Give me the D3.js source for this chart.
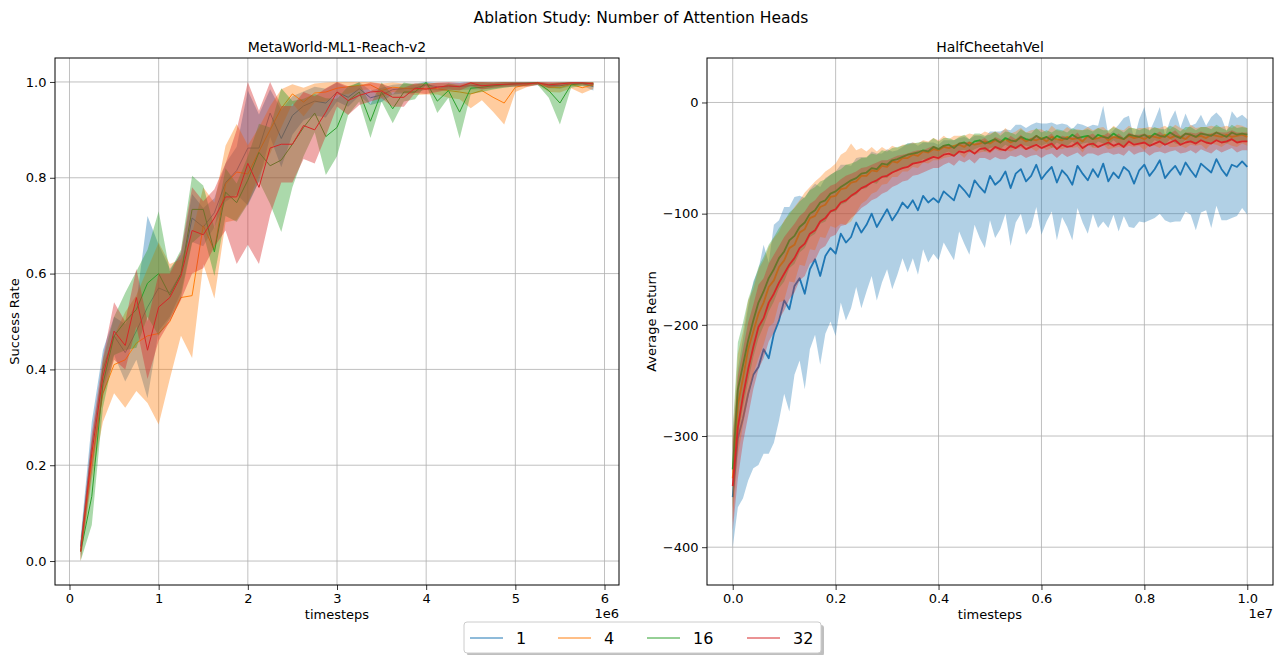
<!DOCTYPE html>
<html><head><meta charset="utf-8">
<script src="https://cdn.jsdelivr.net/npm/d3@7"></script>
<style>body{margin:0;background:#fff}svg{display:block}text{font-family:"DejaVu Sans",sans-serif;fill:#000}</style>
</head><body>
<script>
// ---------- DATA ----------
const seriesNames = ["1", "4", "16", "32"];
const colors = ["#1f77b4", "#ff7f0e", "#2ca02c", "#d62728"];

// Left panel: MetaWorld-ML1-Reach-v2, x = k * 0.125e6 (k = 1..47)
const reachSteps = [1,2,3,4,5,6,7,8,9,10,11,12,13,14,15,16,17,18,19,20,21,22,23,24,25,26,27,28,29,30,31,32,33,34,35,36,37,38,39,40,41,42,43,44,45,46,47].map(k => k * 125000);
const reachMean1  = [.03,.24,.40,.47,.435,.48,.53,.57,.56,.60,.716,.697,.727,.79,.815,.862,.862,.935,.882,.93,.95,.96,.956,.979,.968,.986,.967,.973,.984,.986,.987,.994,.99,.99,.991,.992,.993,.992,.995,.996,.997,.998,.993,.992,.996,.997,.99];
const reachMean4  = [.02,.21,.35,.41,.42,.455,.47,.475,.50,.55,.554,.70,.648,.787,.812,.808,.855,.90,.945,.975,.958,.977,.979,.987,.99,.993,.994,.982,.989,.987,.985,.986,.986,.982,.979,.975,.982,.968,.956,.989,.994,.999,.989,.988,.995,.988,.994];
const reachMean16 = [.02,.135,.37,.47,.50,.525,.58,.60,.555,.60,.734,.734,.645,.77,.748,.795,.853,.825,.837,.87,.905,.935,.886,.905,.961,.979,.918,.979,.944,.979,.979,.999,.96,.982,.937,.987,.989,.992,.994,.996,.997,.998,.982,.956,.994,.997,.996];
const reachMean32 = [.02,.225,.385,.48,.45,.55,.44,.53,.55,.595,.69,.681,.716,.76,.76,.83,.78,.862,.87,.87,.909,.90,.937,.979,.961,.972,.979,.981,.968,.968,.987,.985,.989,.992,.99,.998,.992,.994,.995,.996,.996,.998,.994,.996,.998,.998,.996];
const reachSd1  = [.02,.05,.04,.04,.06,.06,.19,.09,.05,.04,.05,.04,.03,.04,.05,.12,.07,.05,.06,.04,.03,.03,.03,.02,.02,.015,.015,.015,.01,.01,.01,.01,.008,.008,.008,.008,.008,.006,.006,.006,.005,.005,.006,.006,.005,.005,.008];
const reachSd4  = [.02,.04,.06,.06,.10,.10,.14,.19,.12,.08,.13,.08,.10,.08,.10,.06,.05,.05,.04,.02,.03,.02,.02,.015,.015,.01,.01,.015,.01,.01,.012,.012,.012,.015,.015,.03,.02,.03,.045,.01,.005,.005,.01,.01,.008,.012,.008];
const reachSd16 = [.02,.06,.05,.04,.06,.08,.07,.13,.05,.05,.07,.05,.05,.05,.04,.05,.06,.08,.15,.09,.06,.04,.08,.06,.03,.02,.035,.02,.03,.02,.015,.005,.025,.015,.055,.012,.01,.008,.006,.005,.005,.004,.015,.045,.006,.005,.005];
const reachSd32 = [.02,.04,.04,.06,.05,.06,.06,.07,.05,.05,.09,.07,.06,.07,.14,.17,.16,.14,.08,.08,.07,.07,.05,.03,.03,.02,.02,.015,.02,.02,.01,.01,.01,.008,.008,.006,.008,.006,.005,.005,.006,.004,.006,.005,.004,.004,.005];

// Right panel: HalfCheetahVel, x = i * 1e5 (i = 0..100)
const cheetahSteps = d3.range(0, 101).map(i => i * 100000);
const cheetahMean1 = [-355,-302,-284,-262,-245,-238,-222,-230,-208,-196,
 -178,-186,-165,-158,-172,-150,-141,-156,-138,-131,
 -136,-118,-126,-121,-108,-117,-110,-100,-112,-104,
 -96,-106,-99,-90,-95,-88,-97,-84,-90,-86,
 -90,-80,-84,-88,-74,-79,-85,-70,-76,-81,
 -66,-74,-70,-62,-77,-64,-60,-71,-66,-56,
 -69,-63,-58,-72,-61,-66,-74,-57,-64,-70,
 -60,-67,-55,-71,-63,-68,-58,-62,-73,-61,
 -56,-66,-60,-52,-68,-62,-57,-65,-54,-61,
 -67,-55,-59,-63,-51,-60,-66,-56,-58,-53,-58];
const cheetahMean4 = [-338,-272,-248,-222,-206,-190,-180,-166,-160,-148,
 -142,-131,-128,-117,-114,-104,-102,-94,-92,-85,
 -84,-78,-77,-72,-71,-66,-66,-61,-62,-57,
 -58,-53,-54,-50,-50,-47,-48,-44,-45,-42,
 -43,-40,-41,-39,-38,-40,-36,-38,-37,-35,
 -37,-34,-36,-33,-36,-34,-32,-35,-33,-34,
 -32,-35,-31,-33,-34,-31,-33,-32,-35,-30,
 -33,-32,-30,-34,-31,-32,-33,-30,-32,-31,
 -33,-30,-31,-32,-29,-32,-30,-31,-33,-29,
 -31,-30,-32,-29,-30,-31,-29,-31,-30,-29,-31];
const cheetahMean16 = [-330,-258,-236,-214,-196,-180,-170,-158,-150,-140,
 -134,-124,-120,-112,-108,-100,-97,-90,-88,-82,
 -80,-76,-73,-70,-68,-64,-63,-59,-60,-55,
 -56,-52,-51,-49,-47,-46,-45,-43,-44,-40,
 -42,-39,-38,-41,-37,-36,-39,-35,-34,-37,
 -35,-33,-36,-32,-34,-35,-31,-33,-34,-30,
 -33,-31,-34,-30,-32,-33,-29,-32,-31,-30,
 -33,-29,-31,-32,-28,-31,-33,-29,-30,-31,
 -29,-32,-28,-30,-31,-27,-30,-32,-28,-29,
 -31,-28,-29,-30,-27,-29,-31,-27,-29,-28,-29];
const cheetahMean32 = [-345,-292,-264,-240,-220,-202,-194,-180,-172,-162,
 -154,-146,-140,-131,-127,-118,-115,-107,-104,-98,
 -96,-90,-88,-84,-81,-77,-75,-72,-70,-67,
 -66,-63,-61,-59,-58,-55,-54,-53,-51,-49,
 -50,-47,-46,-48,-44,-45,-43,-46,-42,-41,
 -44,-40,-42,-43,-39,-41,-38,-42,-40,-38,
 -41,-39,-37,-42,-38,-40,-39,-36,-41,-38,
 -37,-40,-38,-36,-39,-37,-40,-35,-38,-37,
 -36,-39,-37,-35,-38,-36,-34,-38,-36,-35,
 -37,-34,-36,-37,-34,-36,-35,-33,-36,-35,-35];
const cheetahSd1 = [45,62,72,78,84,88,94,86,98,90,
 84,92,80,74,86,72,68,80,70,66,
 74,62,70,64,58,68,60,56,66,58,
 54,62,56,50,58,52,58,48,54,50,
 52,46,50,54,42,48,52,40,46,50,
 40,48,44,38,52,44,40,48,46,38,
 50,44,40,52,42,46,50,38,44,48,
 40,46,52,42,38,48,44,50,40,46,
 52,40,44,48,38,46,50,42,44,40,
 48,44,38,50,42,46,40,48,44,42,43];
const cheetahSd4 = [40,46,42,44,38,40,38,36,38,32,
 36,30,34,29,33,28,31,27,30,26,
 29,31,33,35,28,25,22,21,18,17,
 15,14,13,12,12,11,11,10,10,10,
 9,10,8,9,8,10,8,9,8,9,
 9,8,8,10,8,8,9,8,8,10,
 8,8,10,8,8,9,8,8,10,8,
 8,9,8,8,10,8,8,9,8,8,
 10,8,8,9,8,8,10,8,8,9,
 8,8,10,8,8,9,8,8,10,8,8];
const cheetahSd16 = [35,42,38,37,33,32,31,30,29,27,
 27,25,25,23,23,21,21,19,19,17,
 18,16,17,15,15,14,14,13,13,12,
 12,11,11,10,10,9,9,8,8,8,
 7,7,6,7,6,7,6,7,6,7,
 6,7,6,6,7,6,7,6,6,7,
 6,6,7,6,7,6,6,7,6,6,
 7,6,6,7,6,7,6,6,7,6,
 6,7,6,6,7,6,7,6,6,7,
 6,6,7,6,7,6,6,7,6,6,6];
const cheetahSd32 = [40,46,42,42,38,38,36,35,35,33,
 33,31,31,29,29,27,27,25,25,23,
 23,21,22,20,19,18,17,16,16,15,
 14,13,13,12,12,11,11,10,10,10,
 9,9,8,9,8,9,8,9,8,9,
 8,9,9,8,9,8,9,8,8,9,
 9,8,9,8,8,9,8,9,8,8,
 9,8,8,9,8,9,8,8,9,8,
 8,9,8,9,8,8,9,8,9,8,
 9,8,8,9,8,9,8,8,9,8,8];

const reachXTicks = [0, 1e6, 2e6, 3e6, 4e6, 5e6, 6e6];
const reachXTickLabels = ["0", "1", "2", "3", "4", "5", "6"];
const reachYTicks = [0, 0.2, 0.4, 0.6, 0.8, 1.0];
const reachYTickLabels = ["0.0", "0.2", "0.4", "0.6", "0.8", "1.0"];
const cheetahXTicks = [0, 2e6, 4e6, 6e6, 8e6, 1e7];
const cheetahXTickLabels = ["0.0", "0.2", "0.4", "0.6", "0.8", "1.0"];
const cheetahYTicks = [-400, -300, -200, -100, 0];
const cheetahYTickLabels = ["\u2212400", "\u2212300", "\u2212200", "\u2212100", "0"];

// ---------- DRAW ----------
const W = 1283, H = 655;
const svg = d3.select("body").append("svg").attr("width", W).attr("height", H);

svg.append("text").attr("x", 641).attr("y", 23).attr("text-anchor", "middle")
  .style("font-size", "15.5px").text("Ablation Study: Number of Attention Heads");

function panel(cfg) {
  const x = d3.scaleLinear().domain(cfg.xDomain).range([cfg.left, cfg.right]);
  const y = d3.scaleLinear().domain(cfg.yDomain).range([cfg.bottom, cfg.top]);
  const g = svg.append("g");
  const clipId = "clip" + cfg.id;
  svg.append("clipPath").attr("id", clipId).append("rect")
    .attr("x", cfg.left).attr("y", cfg.top).attr("width", cfg.right - cfg.left).attr("height", cfg.bottom - cfg.top);

  const grid = g.append("g").attr("stroke", "#b0b0b0").attr("stroke-width", 0.8);
  cfg.xTicks.forEach(t => grid.append("line").attr("x1", x(t)).attr("x2", x(t)).attr("y1", cfg.top).attr("y2", cfg.bottom));
  cfg.yTicks.forEach(t => grid.append("line").attr("y1", y(t)).attr("y2", y(t)).attr("x1", cfg.left).attr("x2", cfg.right));

  const plot = g.append("g").attr("clip-path", `url(#${clipId})`);
  cfg.series.forEach((s, si) => {
    const pts = cfg.steps.map((st, i) => ({x: st, m: s.mean[i], sd: s.sd[i]}));
    const area = d3.area().x(d => x(d.x))
      .y0(d => y(d.m - d.sd))
      .y1(d => y(cfg.clipTop !== undefined ? Math.min(cfg.clipTop, d.m + d.sd) : d.m + d.sd));
    plot.append("path").attr("d", area(pts)).attr("fill", colors[si]).attr("fill-opacity", cfg.bandAlpha).attr("stroke", "none");
    const line = d3.line().x(d => x(d.x)).y(d => y(d.m));
    plot.append("path").attr("d", line(pts)).attr("fill", "none").attr("stroke", colors[si])
      .attr("stroke-width", cfg.lineWidth).attr("stroke-linejoin", "round");
  });

  const xAxis = d3.axisBottom(x).tickValues(cfg.xTicks).tickFormat((d, i) => cfg.xTickLabels[i]).tickSize(5).tickPadding(3.5);
  const yAxis = d3.axisLeft(y).tickValues(cfg.yTicks).tickFormat((d, i) => cfg.yTickLabels[i]).tickSize(5).tickPadding(3.5);
  const ax = g.append("g").attr("transform", `translate(0,${cfg.bottom})`).call(xAxis);
  const ay = g.append("g").attr("transform", `translate(${cfg.left},0)`).call(yAxis);
  [ax, ay].forEach(a => {
    a.select(".domain").remove();
    a.selectAll(".tick line").attr("stroke", "#000").attr("stroke-width", 0.8);
    a.selectAll(".tick text").style("font-size", "13px").style("font-family", '"DejaVu Sans", sans-serif').attr("fill", "#000");
  });
  g.append("rect").attr("x", cfg.left).attr("y", cfg.top).attr("width", cfg.right - cfg.left).attr("height", cfg.bottom - cfg.top)
    .attr("fill", "none").attr("stroke", "#000").attr("stroke-width", 1);

  g.append("text").attr("x", (cfg.left + cfg.right) / 2).attr("y", cfg.top - 6).attr("text-anchor", "middle")
    .style("font-size", "14px").text(cfg.title);
  g.append("text").attr("x", (cfg.left + cfg.right) / 2).attr("y", 619).attr("text-anchor", "middle")
    .style("font-size", "13px").text("timesteps");
  g.append("text").attr("x", cfg.right).attr("y", 618).attr("text-anchor", "end")
    .style("font-size", "13px").text(cfg.offset);
  g.append("text").attr("transform", `translate(${cfg.yLabelX},${(cfg.top + cfg.bottom) / 2}) rotate(-90)`)
    .attr("text-anchor", "middle").style("font-size", "13px").text(cfg.yLabel);
}

panel({
  id: "L", left: 55, right: 619, top: 58, bottom: 585,
  xDomain: [-162500, 6162500], yDomain: [-0.05, 1.05],
  steps: reachSteps,
  series: [
    {mean: reachMean1, sd: reachSd1}, {mean: reachMean4, sd: reachSd4},
    {mean: reachMean16, sd: reachSd16}, {mean: reachMean32, sd: reachSd32}],
  clipTop: 1.0, bandAlpha: 0.4, lineWidth: 1,
  xTicks: reachXTicks, xTickLabels: reachXTickLabels,
  yTicks: reachYTicks, yTickLabels: reachYTickLabels,
  title: "MetaWorld-ML1-Reach-v2", offset: "1e6", yLabel: "Success Rate", yLabelX: 19
});

panel({
  id: "R", left: 707, right: 1273, top: 58, bottom: 585,
  xDomain: [-500000, 10500000], yDomain: [-434, 40],
  steps: cheetahSteps,
  series: [
    {mean: cheetahMean1, sd: cheetahSd1}, {mean: cheetahMean4, sd: cheetahSd4},
    {mean: cheetahMean16, sd: cheetahSd16}, {mean: cheetahMean32, sd: cheetahSd32}],
  bandAlpha: 0.35, lineWidth: 1.8,
  xTicks: cheetahXTicks, xTickLabels: cheetahXTickLabels,
  yTicks: cheetahYTicks, yTickLabels: cheetahYTickLabels,
  title: "HalfCheetahVel", offset: "1e7", yLabel: "Average Return", yLabelX: 656
});

// legend
const lg = svg.append("g");
const lx = 464, ly = 622, lw = 357, lh = 31;
lg.append("rect").attr("x", lx + 3).attr("y", ly + 3).attr("width", lw).attr("height", lh).attr("rx", 3)
  .attr("fill", "#808080").attr("fill-opacity", 0.5);
lg.append("rect").attr("x", lx).attr("y", ly).attr("width", lw).attr("height", lh).attr("rx", 3)
  .attr("fill", "#fff").attr("stroke", "#cccccc").attr("stroke-width", 1);
const entryX = [470, 558, 647, 747];
seriesNames.forEach((n, i) => {
  lg.append("line").attr("x1", entryX[i]).attr("x2", entryX[i] + 33).attr("y1", ly + 16).attr("y2", ly + 16)
    .attr("stroke", colors[i]).attr("stroke-width", 1);
  lg.append("text").attr("x", entryX[i] + 46).attr("y", ly + 22).style("font-size", "16px").text(n);
});
</script>
</body></html>
